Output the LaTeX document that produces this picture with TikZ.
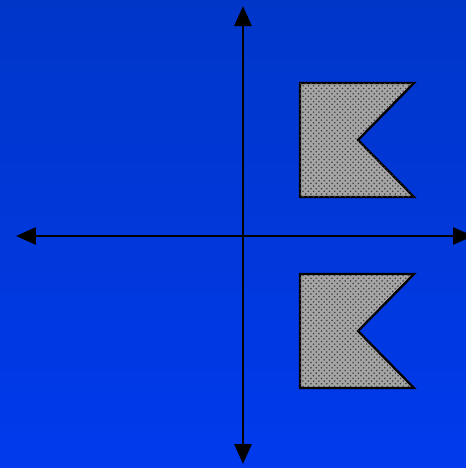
\documentclass[tikz,border=0pt]{standalone}
\usepackage{tikz}
\usetikzlibrary{
  arrows.meta,
  patterns
}
\definecolor{bgtop}{RGB}{0, 54, 200}
\definecolor{bgbottom}{RGB}{0, 58, 236}
\definecolor{flaggray}{RGB}{165, 165, 165}

\begin{document}
\begin{tikzpicture}[
  x=0.02cm, y=-0.02cm,
  axis/.style={black, line width=1.7pt, {Triangle[length=0.4cm, width=0.34cm]}-{Triangle[length=0.4cm, width=0.34cm]}},
  flag/.style={draw=black, line width=1.3pt, line join=miter, fill=flaggray, postaction={pattern=crosshatch dots, pattern color=black!75}}
]

% Background and frame
\clip (0,0) rectangle (466,468);
\fill[top color=bgtop, bottom color=bgbottom] (0,0) rectangle (466,468);

% Axis end points
\coordinate (top) at (243,6);
\coordinate (bottom) at (243,464);
\coordinate (left) at (16,236);
\coordinate (right) at (473,236);

% Axes
\draw[axis] (left) -- (right);
\draw[axis] (top) -- (bottom);

% Flags in the upper and lower right quadrants
\draw[flag] (300,83) -- (414,83) -- (358,140) -- (414,197) -- (300,197) -- cycle;
\draw[flag] (300,274) -- (414,274) -- (358,331) -- (414,388) -- (300,388) -- cycle;

\end{tikzpicture}
\end{document}
